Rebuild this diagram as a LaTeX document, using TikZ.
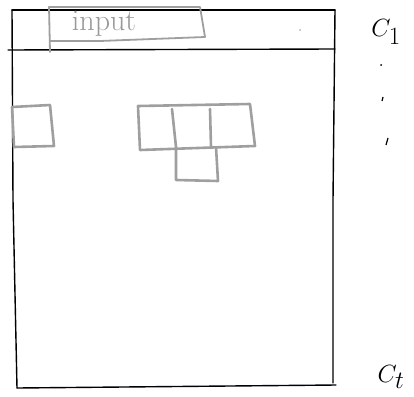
\documentclass[tikz,border=0pt]{standalone}
\begin{document}
\begin{tikzpicture}[x=1pt,y=-1pt,
  frame/.style={draw=black,line width=1.4pt,line cap=round},
  sketch/.style={draw=gray!75,line width=2.6pt,line cap=round,line join=round},
  lbl/.style={inner sep=0pt,font=\fontsize{34}{36}\selectfont}]
\useasboundingbox (0,0) rectangle (414,396);
% frame corners
\coordinate (tl) at (12,10);
\coordinate (tr) at (335,10);
\coordinate (ml) at (8,50);
\coordinate (mr) at (335,49);
\coordinate (bl) at (17,388);
\coordinate (br) at (336,385);
\draw[frame] (tl) -- (tr);
\draw[frame] (ml) -- (mr);
\draw[frame] (tl) -- (13,200) -- (bl);
\draw[frame] (tr) -- (333,200) -- (333,383);
\draw[frame] (bl) -- (br);
% input box
\draw[sketch,line width=1.8pt] (50,52) -- (49,7) -- (200,7) -- (205,37) -- (100,41) -- (51,41);
\node[inner sep=0pt,text=gray!80,font=\fontsize{30}{32}\selectfont] (inp) at (104,24) {input};
\fill[gray!60] (300,30) circle (1pt);
% left small square
\draw[sketch] (12,107) -- (50,105) -- (54,146) -- (14,147) -- cycle;
% T shape
\draw[sketch] (138,106) -- (250,104) -- (255,146) -- (140,150) -- cycle;
\draw[sketch] (172,109) -- (176,147);
\draw[sketch] (210,109) -- (211,147);
\draw[sketch] (176,147) -- (176,180) -- (218,181) -- (216,147);
% labels
\node[lbl] (c1) at (386,32) {$C_1$};
\fill (381,65) circle (1pt);
\draw[line width=1.2pt] (383,97) -- (382,101);
\draw[line width=1.2pt] (388,138) -- (386,145);
\node[lbl] (ct) at (391,377) {$C_t$};
\end{tikzpicture}
\end{document}
